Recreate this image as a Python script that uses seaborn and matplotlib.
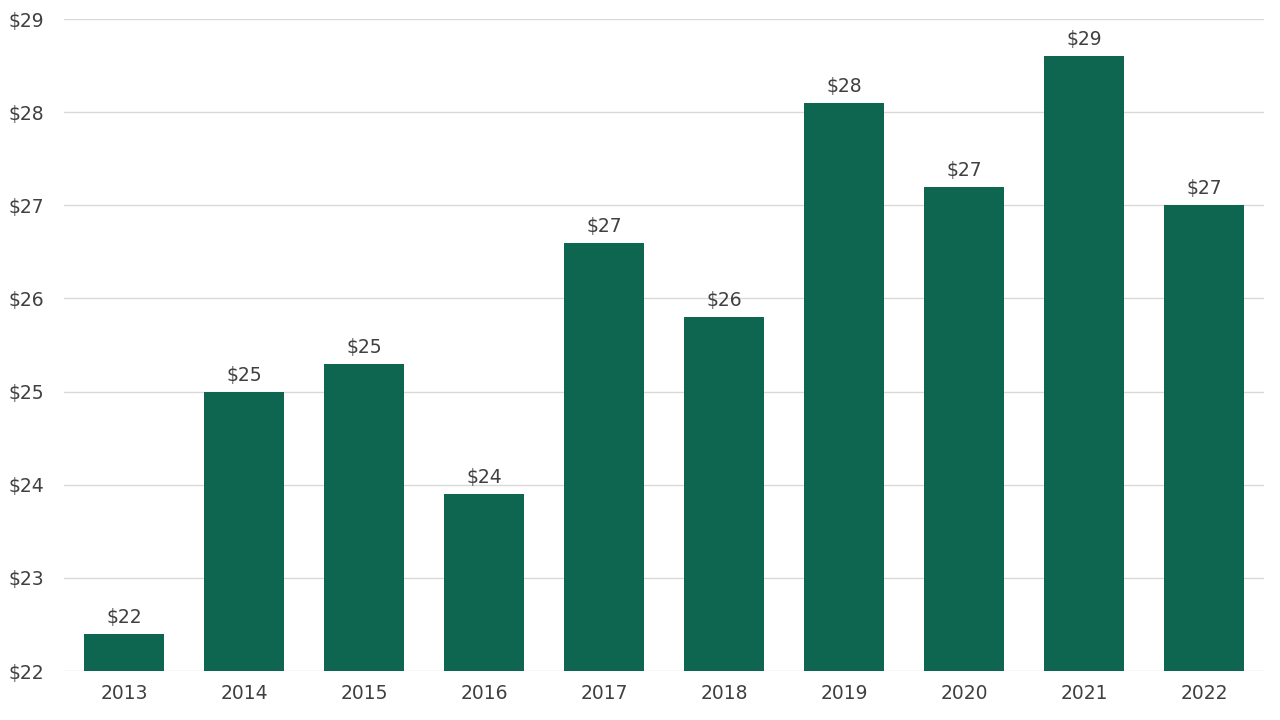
import matplotlib
matplotlib.use("Agg")
import matplotlib.pyplot as plt
import seaborn as sns
import pandas as pd

# data
years = ["2013", "2014", "2015", "2016", "2017", "2018", "2019", "2020", "2021", "2022"]
values = [22.4, 25.0, 25.3, 23.9, 26.6, 25.8, 28.1, 27.2, 28.6, 27.0]
yticks = [22, 23, 24, 25, 26, 27, 28, 29]

df = pd.DataFrame({"year": years, "value": values})

sns.set_style("white")
plt.rcParams['font.family'] = ['DejaVu Sans']
text_col = "#404040"
bar_col = "#0E6650"

fig = plt.figure(figsize=(12.8, 7.2), dpi=100)
ax = fig.add_axes([0.05, 0.068, 0.9375, 0.9056])

sns.barplot(data=df, x="year", y="value", color=bar_col, saturation=1, width=0.667,
            linewidth=0, ax=ax, zorder=3)

ax.set_ylim(22, 29)
ax.set_xlim(-0.5, len(years) - 0.5)
ax.set_yticks(yticks)
ax.set_yticklabels(["$%d" % t for t in yticks])
ax.yaxis.grid(True, color="#d9d9d9", linewidth=1, zorder=0)
ax.set_axisbelow(True)
for s in ax.spines.values():
    s.set_visible(False)
ax.tick_params(axis="both", length=0, labelsize=13.5, colors=text_col)
ax.tick_params(axis="x", pad=9)
ax.tick_params(axis="y", pad=14)
ax.set_xlabel("")
ax.set_ylabel("")

for i, v in enumerate(values):
    ax.annotate("$%d" % round(v), (i, v), xytext=(0, 5), textcoords="offset points",
                ha="center", va="bottom", fontsize=13.5, color=text_col)

fig.savefig("out.png", dpi=100)
